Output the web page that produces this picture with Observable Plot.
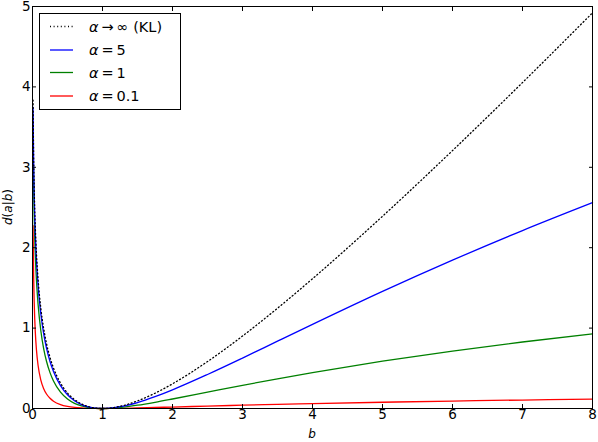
<!DOCTYPE html>
<html>
<head>
<meta charset="utf-8">
<script src="https://cdn.jsdelivr.net/npm/d3@7"></script>
<script src="https://cdn.jsdelivr.net/npm/@observablehq/plot@0.6"></script>
<style>
  body { margin: 0; background: white; }
  #chart { position: relative; width: 598px; height: 442px; }
</style>
</head>
<body>
<div id="chart"></div>
<script>
const bValues = [0.008, 0.016, 0.024, 0.032, 0.04, 0.056, 0.08, 0.12, 0.16, 0.2, 0.25, 0.3, 0.4, 0.5, 0.6, 0.7, 0.8, 0.9, 1.0, 1.1, 1.25, 1.5, 1.75, 2, 2.5, 3, 3.5, 4, 5, 6, 7, 8];
const klValues = [3.836, 3.151, 2.754, 2.474, 2.259, 1.938, 1.606, 1.240, 0.993, 0.809, 0.636, 0.504, 0.316, 0.193, 0.111, 0.057, 0.023, 0.0054, 0, 0.0047, 0.027, 0.0945, 0.190, 0.307, 0.584, 0.901, 1.247, 1.614, 2.391, 3.208, 4.054, 4.921];
const alpha5Values = [3.744, 3.060, 2.664, 2.386, 2.173, 1.855, 1.527, 1.169, 0.928, 0.751, 0.585, 0.460, 0.284, 0.171, 0.097, 0.049, 0.020, 0.0043, 0, 0.0041, 0.022, 0.0746, 0.147, 0.232, 0.423, 0.627, 0.837, 1.046, 1.456, 1.845, 2.213, 2.560];
const alpha1Values = [3.458, 2.781, 2.391, 2.119, 1.911, 1.605, 1.293, 0.961, 0.743, 0.588, 0.446, 0.342, 0.203, 0.118, 0.0645, 0.0317, 0.0124, 0.0028, 0, 0.0023, 0.0124, 0.0408, 0.0773, 0.118, 0.203, 0.288, 0.369, 0.446, 0.588, 0.714, 0.827, 0.929];
const alpha01Values = [2.275, 1.661, 1.329, 1.110, 0.951, 0.734, 0.535, 0.350, 0.246, 0.180, 0.127, 0.0913, 0.049, 0.0264, 0.0137, 0.0064, 0.0024, 0.00045, 0, 0.0004, 0.0021, 0.0067, 0.0123, 0.0181, 0.0299, 0.0411, 0.0514, 0.0610, 0.0779, 0.0925, 0.1054, 0.1168];

const seriesNames = ["KL", "alpha5", "alpha1", "alpha01"];
const seriesValues = [klValues, alpha5Values, alpha1Values, alpha01Values];
const seriesColors = ["#000000", "#0000ff", "#008000", "#ff0000"];
const legendLabels = [["α", "\u2009→\u2009∞ (KL)"], ["α", "\u2009=\u20095"], ["α", "\u2009=\u20091"], ["α", "\u2009=\u20090.1"]];
const xTicks = [0, 1, 2, 3, 4, 5, 6, 7, 8];
const yTicks = [0, 1, 2, 3, 4, 5];

const rows = [];
seriesNames.forEach((name, i) => {
  bValues.forEach((b, j) => rows.push({series: name, b, d: seriesValues[i][j]}));
});

const font = "DejaVu Sans, sans-serif";
const lineMark = (name, color, extra = {}) =>
  Plot.line(rows.filter(r => r.series === name), {x: "b", y: "d", stroke: color, strokeWidth: 1.3, curve: "monotone-x", ...extra});

const chart = Plot.plot({
  width: 598,
  height: 442,
  marginLeft: 32,
  marginRight: 6,
  marginTop: 6,
  marginBottom: 34,
  style: {fontFamily: font, fontSize: "13px", background: "white", color: "black", overflow: "visible"},
  x: {domain: [0, 8]},
  y: {domain: [0, 5]},
  marks: [
    lineMark("alpha01", seriesColors[3]),
    lineMark("alpha1", seriesColors[2]),
    lineMark("alpha5", seriesColors[1]),
    lineMark("KL", seriesColors[0], {strokeDasharray: "1,2.6", strokeWidth: 1.3}),
    Plot.axisX({anchor: "bottom", ticks: xTicks, tickSize: -4, tickPadding: 5, tickFormat: d3.format("d"), label: null, fontSize: 13.5}),
    Plot.axisX({anchor: "top", ticks: xTicks, tickSize: -4, tickFormat: () => "", label: null}),
    Plot.axisY({anchor: "left", ticks: yTicks, tickSize: -4, tickPadding: 6, tickFormat: d3.format("d"), label: null, fontSize: 13.5}),
    Plot.axisY({anchor: "right", ticks: yTicks, tickSize: -4, tickFormat: () => "", label: null}),
    Plot.frame({stroke: "black", strokeWidth: 1})
  ]
});

document.getElementById("chart").appendChild(chart);

// axis labels and legend
const svg = d3.select(chart);
svg.append("text")
  .attr("x", 312).attr("y", 438)
  .attr("text-anchor", "middle")
  .attr("font-family", font).attr("font-size", 12).attr("font-style", "italic")
  .text("b");
const yl = svg.append("text")
  .attr("transform", "translate(12,207) rotate(-90)")
  .attr("text-anchor", "middle")
  .attr("font-family", font).attr("font-size", 12);
yl.append("tspan").attr("font-style", "italic").text("d");
yl.append("tspan").text("(");
yl.append("tspan").attr("font-style", "italic").text("a");
yl.append("tspan").text("|");
yl.append("tspan").attr("font-style", "italic").text("b");
yl.append("tspan").text(")");

const lg = svg.append("g");
lg.append("rect").attr("x", 39.5).attr("y", 13.5).attr("width", 141).attr("height", 96)
  .attr("fill", "white").attr("stroke", "black").attr("stroke-width", 1);
const rowY = [26.5, 50, 72.5, 96];
legendLabels.forEach((lab, i) => {
  lg.append("line").attr("x1", 50).attr("x2", 73).attr("y1", rowY[i]).attr("y2", rowY[i])
    .attr("stroke", seriesColors[i]).attr("stroke-width", 1.3)
    .attr("stroke-dasharray", i === 0 ? "1,2.6" : null);
  const t = lg.append("text").attr("x", 89).attr("y", rowY[i]).attr("dy", "0.36em")
    .attr("text-anchor", "start")
    .attr("font-family", font).attr("font-size", 14.5);
  t.append("tspan").attr("font-style", "italic").text(lab[0]);
  t.append("tspan").text(lab[1]);
});
</script>
</body>
</html>
